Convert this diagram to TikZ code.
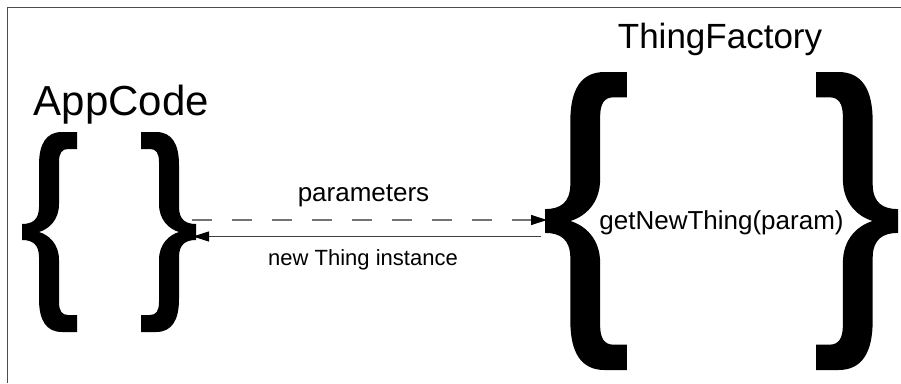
\documentclass[tikz,border=0pt]{standalone}
\usepackage{fontspec}
\setmainfont{Liberation Sans}
\usetikzlibrary{arrows.meta}
\begin{document}
\begin{tikzpicture}[x=1pt,y=-1pt,
  pics/lbrace/.style={code={
    \fill[black] (55,0) -- (40,0) .. controls (24,0) and (17,12) .. (17,33) -- (17,75)
      .. controls (17,88) and (10,92) .. (0,92) -- (0,108)
      .. controls (10,108) and (17,112) .. (17,125) -- (17,167)
      .. controls (17,188) and (24,200) .. (40,200) -- (55,200) -- (55,183) -- (46,183)
      .. controls (40,183) and (37,179) .. (37,170) -- (37,128)
      .. controls (37,112) and (27,103) .. (17,100)
      .. controls (27,97) and (37,88) .. (37,72) -- (37,30)
      .. controls (37,21) and (40,17) .. (46,17) -- (55,17) -- cycle;
  }},
  lbl/.style={inner sep=0pt, anchor=base, text=black},
  dashconn/.style={draw=black!55, line width=1.3pt, dash pattern=on 20pt off 20pt},
  solidconn/.style={draw=black!75, line width=1pt},
  tip/.style={-{Triangle[length=16pt,width=10pt,color=black]}},
]
\fill[white] (0,0) rectangle (901,383);
\useasboundingbox (0,0) rectangle (901,383);
\draw[black!70, line width=1.5pt] (7.5,383) -- (7.5,7.5) -- (901,7.5);

% AppCode
\node[lbl, font=\fontsize{42}{48}\selectfont] (app) at (121.5,115) {AppCode};
\pic at (22,132) {lbrace};
\pic[xscale=-1] at (196,132) {lbrace};

% ThingFactory
\node[lbl, font=\fontsize{35}{40}\selectfont] (fac) at (720,48) {ThingFactory};
\pic[scale=1.49] at (545,72) {lbrace};
\pic[xscale=-1.49,yscale=1.49] at (898,72) {lbrace};
\node[lbl, font=\fontsize{26}{30}\selectfont] (meth) at (721.5,229) {getNewThing(param)};

% connectors
\coordinate (appOut) at (192,220);
\coordinate (facIn) at (547,220);
\coordinate (facOut) at (541,236.5);
\coordinate (appIn) at (193,236.5);
\draw[dashconn, tip] (appOut) -- (facIn);
\draw[solidconn, tip] (facOut) -- (appIn);
\node[lbl, font=\fontsize{26}{30}\selectfont] (par) at (363.5,201) {parameters};
\node[lbl, font=\fontsize{22}{26}\selectfont] (ret) at (363,265) {new Thing instance};
\end{tikzpicture}
\end{document}
